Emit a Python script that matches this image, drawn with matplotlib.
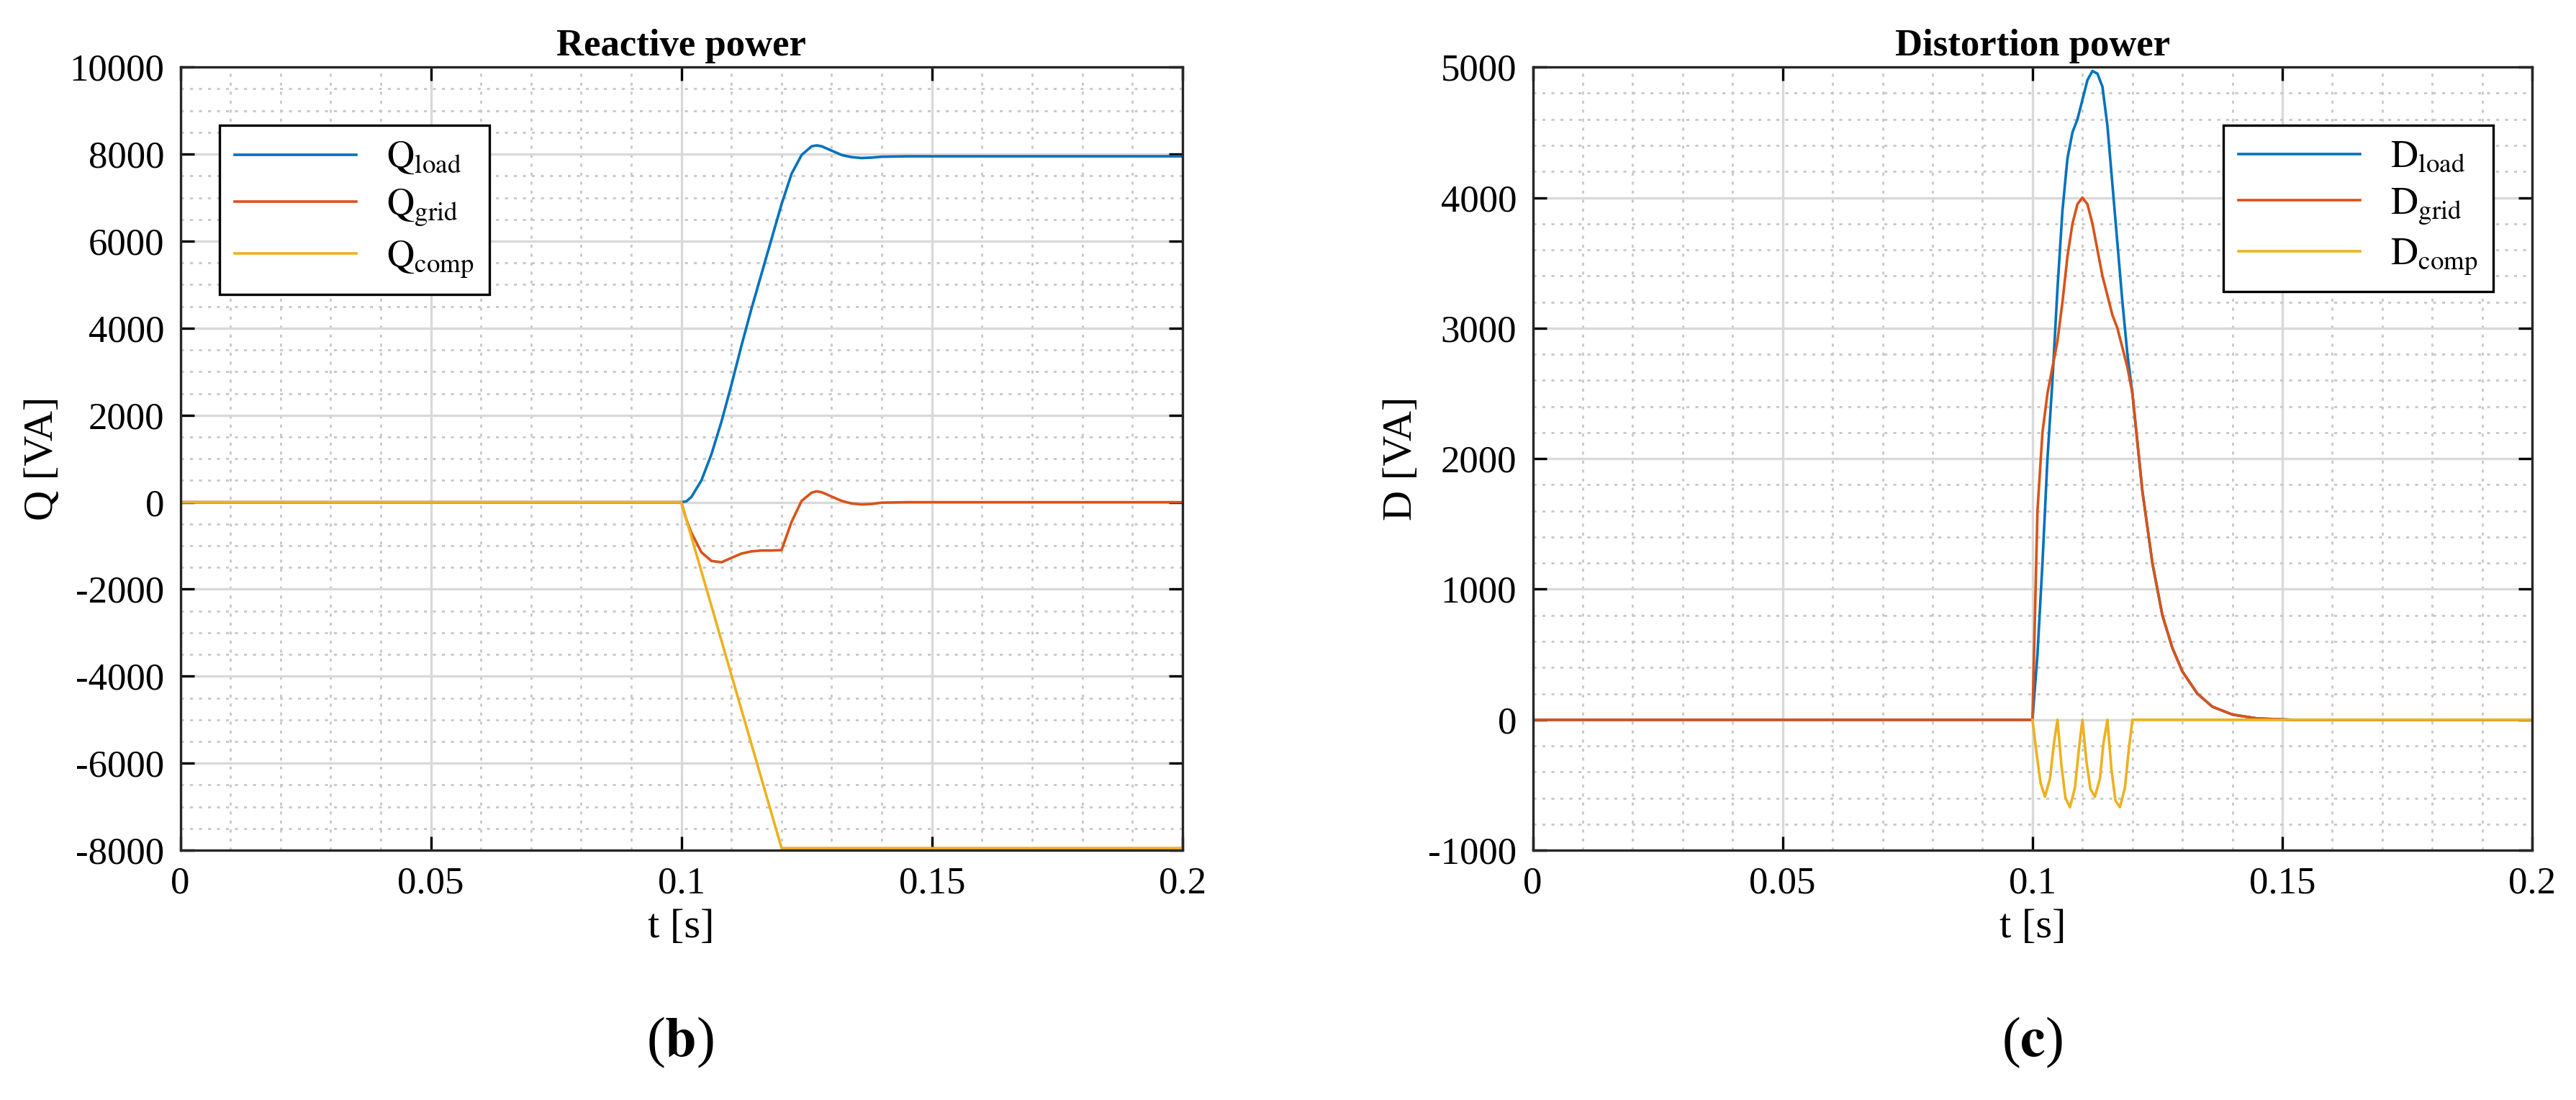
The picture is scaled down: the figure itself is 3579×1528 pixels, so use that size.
import numpy as np
import matplotlib.pyplot as plt
from matplotlib.ticker import MultipleLocator

plt.rcParams['font.family'] = 'Liberation Serif'
plt.rcParams['mathtext.fontset'] = 'stix'
plt.rcParams['axes.unicode_minus'] = False

# Reactive power
tq = [0, 0.1, 0.101, 0.102, 0.104, 0.106, 0.108, 0.11, 0.112, 0.114, 0.116, 0.118, 0.12, 0.122, 0.124, 0.126, 0.127,
      0.128, 0.13, 0.132, 0.134, 0.136, 0.138, 0.14, 0.145, 0.2]
q_load = [0, 0, 20, 120, 500, 1100, 1850, 2700, 3600, 4450, 5250, 6050, 6850, 7550, 7980, 8180, 8200,
          8180, 8080, 7980, 7930, 7910, 7920, 7940, 7950, 7950]
q_grid = [0, 0, -400, -700, -1150, -1350, -1380, -1280, -1180, -1130, -1110, -1110, -1100, -450, 30, 220, 250,
          230, 130, 30, -30, -50, -40, -10, 0, 0]
q_comp = [0, 0, -398, -795, -1590, -2385, -3180, -3975, -4770, -5565, -6360, -7155, -7950, -7950, -7950, -7950, -7950,
          -7950, -7950, -7950, -7950, -7950, -7950, -7950, -7950, -7950]

# Distortion power
td = [0, 0.1, 0.101, 0.102, 0.103, 0.104, 0.105, 0.106, 0.107, 0.108, 0.109, 0.11, 0.111, 0.112, 0.113,
      0.114, 0.115, 0.116, 0.117, 0.118, 0.119, 0.12, 0.122, 0.124, 0.126, 0.128, 0.13, 0.133, 0.136,
      0.14, 0.145, 0.152, 0.2]
d_load = [0, 0, 500, 1200, 2000, 2600, 3300, 3900, 4300, 4500, 4600, 4750, 4900, 4970, 4950,
          4850, 4550, 4100, 3650, 3200, 2800, 2500, 1750, 1200, 800, 550, 370, 200, 100,
          40, 10, 0, 0]
d_grid = [0, 0, 1600, 2200, 2500, 2700, 2900, 3200, 3550, 3800, 3950, 4000, 3950, 3800, 3600,
          3400, 3250, 3100, 3000, 2850, 2700, 2500, 1750, 1200, 800, 550, 370, 200, 100,
          40, 10, 0, 0]
tdc = [0.1, 0.1008, 0.1016, 0.1025, 0.1035, 0.1043, 0.105, 0.1058, 0.1066, 0.1075, 0.1085, 0.1093, 0.11,
       0.1108, 0.1116, 0.1125, 0.1135, 0.1142, 0.115, 0.1158, 0.1166, 0.1175, 0.1185, 0.1193, 0.12, 0.2]
d_comp = [0, -250, -480, -590, -450, -180, 0, -350, -600, -670, -520, -220, 0,
          -320, -530, -590, -450, -180, 0, -380, -620, -670, -520, -220, 0, 0]

c_blue = '#0072BD'
c_red = '#D95319'
c_yel = '#EDB120'

fig = plt.figure(figsize=(17.895, 7.64), dpi=200)
ax1 = fig.add_axes([0.070, 0.227, 0.389, 0.712])
ax2 = fig.add_axes([0.595, 0.227, 0.388, 0.712])


def style(ax, ymaj, ymin):
    ax.set_xlim(0, 0.2)
    ax.set_xticks([0, 0.05, 0.1, 0.15, 0.2])
    ax.set_xticklabels(['0', '0.05', '0.1', '0.15', '0.2'])
    ax.xaxis.set_minor_locator(MultipleLocator(0.01))
    ax.yaxis.set_major_locator(MultipleLocator(ymaj))
    ax.yaxis.set_minor_locator(MultipleLocator(ymin))
    ax.grid(True, which='major', color='#d9d9d9', lw=1.2)
    ax.grid(True, which='minor', color='#c8c8c8', lw=1.0, ls=(0, (1.5, 3)))
    ax.set_axisbelow(True)
    ax.tick_params(which='both', direction='in', top=True, right=True, labelsize=19, pad=8)
    ax.tick_params(which='minor', length=0)
    ax.tick_params(which='major', length=7, width=1.2)
    for s in ax.spines.values():
        s.set_color('#262626')
        s.set_linewidth(1.2)
    ax.set_xlabel('t [s]', fontsize=21)


ax1.plot(tq, q_load, color=c_blue, lw=1.3, label=r'$\mathrm{Q_{load}}$')
ax1.plot(tq, q_grid, color=c_red, lw=1.3, label=r'$\mathrm{Q_{grid}}$')
ax1.plot(tq, q_comp, color=c_yel, lw=1.3, label=r'$\mathrm{Q_{comp}}$')
style(ax1, 2000, 500)
ax1.set_ylim(-8000, 10000)
ax1.set_ylabel('Q [VA]', fontsize=21)
ax1.set_title('Reactive power', fontsize=19, fontweight='bold')
leg = ax1.legend(loc='upper left', bbox_to_anchor=(0.02, 0.95), fontsize=19, fancybox=False,
                 edgecolor='black', framealpha=1, handlelength=3.2, labelspacing=0.3)
leg.get_frame().set_linewidth(1.2)

ax2.plot(td, d_load, color=c_blue, lw=1.3, label=r'$\mathrm{D_{load}}$')
ax2.plot(td, d_grid, color=c_red, lw=1.3, label=r'$\mathrm{D_{grid}}$')
ax2.plot(tdc, d_comp, color=c_yel, lw=1.3, label=r'$\mathrm{D_{comp}}$')
style(ax2, 1000, 200)
ax2.set_ylim(-1000, 5000)
ax2.set_ylabel('D [VA]', fontsize=21)
ax2.set_title('Distortion power', fontsize=19, fontweight='bold')
leg = ax2.legend(loc='upper right', bbox_to_anchor=(0.98, 0.95), fontsize=19, fancybox=False,
                 edgecolor='black', framealpha=1, handlelength=3.2, labelspacing=0.3)
leg.get_frame().set_linewidth(1.2)

fig.text(0.264, 0.04, r'($\mathbf{b}$)', fontsize=28, ha='center')
fig.text(0.789, 0.04, r'($\mathbf{c}$)', fontsize=28, ha='center')

fig.savefig('out.png')
